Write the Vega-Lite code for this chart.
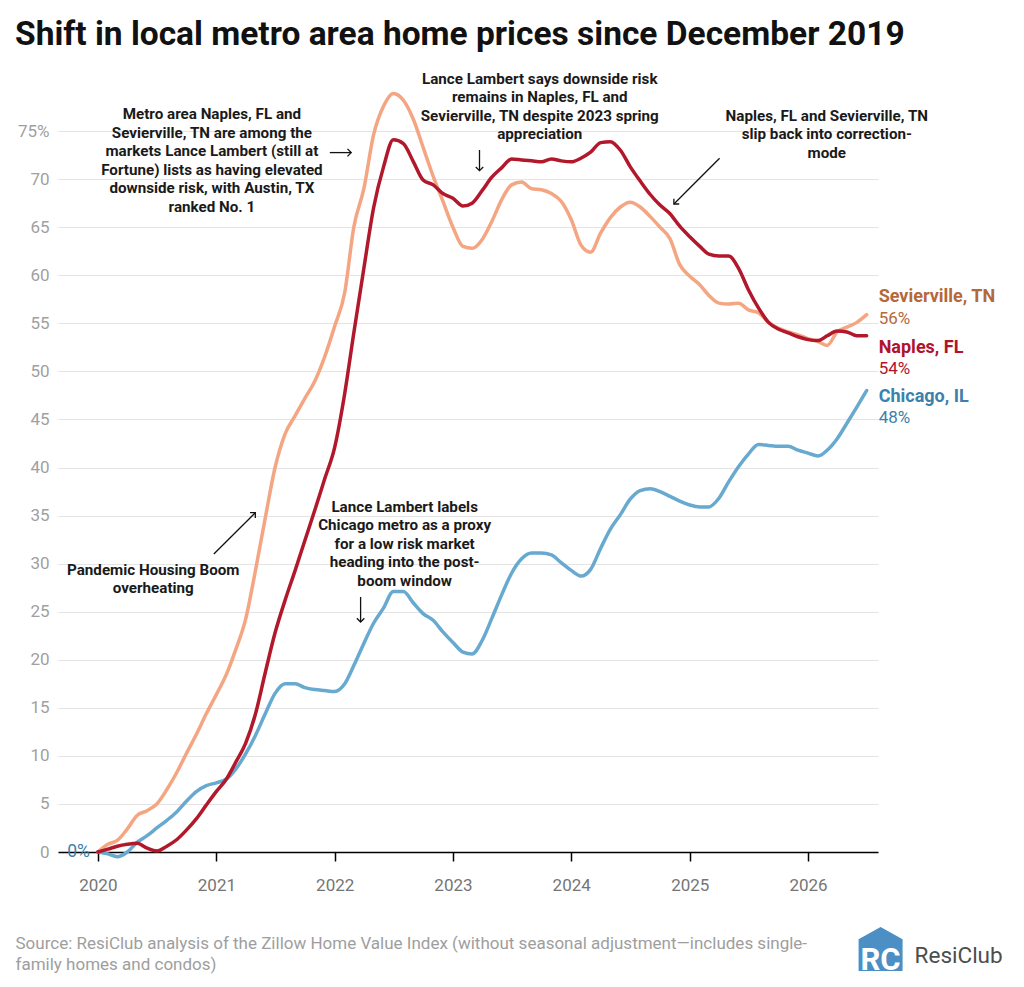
{
  "$schema": "https://vega.github.io/schema/vega-lite/v6.json",
  "width": 820,
  "height": 769,
  "autosize": {"type": "none"},
  "padding": {"left": 58, "top": 83, "right": 146, "bottom": 135},
  "background": "white",
  "title": {
    "text": "Shift in local metro area home prices since December 2019",
    "anchor": "start",
    "frame": "group",
    "fontSize": 33.5,
    "fontWeight": "bold",
    "color": "#111111",
    "dx": -43,
    "offset": 19
  },
  "datasets": {
    "series": [
      {"metro": "Chicago, IL", "date": "2020-01-01", "value": 0},
      {"metro": "Chicago, IL", "date": "2020-02-01", "value": -0.2},
      {"metro": "Chicago, IL", "date": "2020-03-01", "value": -0.5},
      {"metro": "Chicago, IL", "date": "2020-04-01", "value": 0.0},
      {"metro": "Chicago, IL", "date": "2020-05-01", "value": 1.0},
      {"metro": "Chicago, IL", "date": "2020-06-01", "value": 1.7},
      {"metro": "Chicago, IL", "date": "2020-07-01", "value": 2.5},
      {"metro": "Chicago, IL", "date": "2020-08-01", "value": 3.3},
      {"metro": "Chicago, IL", "date": "2020-09-01", "value": 4.2},
      {"metro": "Chicago, IL", "date": "2020-10-01", "value": 5.3},
      {"metro": "Chicago, IL", "date": "2020-11-01", "value": 6.3},
      {"metro": "Chicago, IL", "date": "2020-12-01", "value": 6.9},
      {"metro": "Chicago, IL", "date": "2021-01-01", "value": 7.2},
      {"metro": "Chicago, IL", "date": "2021-02-01", "value": 7.6},
      {"metro": "Chicago, IL", "date": "2021-03-01", "value": 8.6},
      {"metro": "Chicago, IL", "date": "2021-04-01", "value": 10.2},
      {"metro": "Chicago, IL", "date": "2021-05-01", "value": 12.1},
      {"metro": "Chicago, IL", "date": "2021-06-01", "value": 14.4},
      {"metro": "Chicago, IL", "date": "2021-07-01", "value": 16.5},
      {"metro": "Chicago, IL", "date": "2021-08-01", "value": 17.5},
      {"metro": "Chicago, IL", "date": "2021-09-01", "value": 17.5},
      {"metro": "Chicago, IL", "date": "2021-10-01", "value": 17.1},
      {"metro": "Chicago, IL", "date": "2021-11-01", "value": 16.9},
      {"metro": "Chicago, IL", "date": "2021-12-01", "value": 16.8},
      {"metro": "Chicago, IL", "date": "2022-01-01", "value": 16.7},
      {"metro": "Chicago, IL", "date": "2022-02-01", "value": 17.5},
      {"metro": "Chicago, IL", "date": "2022-03-01", "value": 19.4},
      {"metro": "Chicago, IL", "date": "2022-04-01", "value": 21.7},
      {"metro": "Chicago, IL", "date": "2022-05-01", "value": 23.8},
      {"metro": "Chicago, IL", "date": "2022-06-01", "value": 25.4},
      {"metro": "Chicago, IL", "date": "2022-07-01", "value": 27.1},
      {"metro": "Chicago, IL", "date": "2022-08-01", "value": 27.1},
      {"metro": "Chicago, IL", "date": "2022-09-01", "value": 25.9},
      {"metro": "Chicago, IL", "date": "2022-10-01", "value": 24.8},
      {"metro": "Chicago, IL", "date": "2022-11-01", "value": 24.1},
      {"metro": "Chicago, IL", "date": "2022-12-01", "value": 22.9},
      {"metro": "Chicago, IL", "date": "2023-01-01", "value": 21.8},
      {"metro": "Chicago, IL", "date": "2023-02-01", "value": 20.8},
      {"metro": "Chicago, IL", "date": "2023-03-01", "value": 20.6},
      {"metro": "Chicago, IL", "date": "2023-04-01", "value": 22.0},
      {"metro": "Chicago, IL", "date": "2023-05-01", "value": 24.3},
      {"metro": "Chicago, IL", "date": "2023-06-01", "value": 26.8},
      {"metro": "Chicago, IL", "date": "2023-07-01", "value": 29.0},
      {"metro": "Chicago, IL", "date": "2023-08-01", "value": 30.5},
      {"metro": "Chicago, IL", "date": "2023-09-01", "value": 31.1},
      {"metro": "Chicago, IL", "date": "2023-10-01", "value": 31.1},
      {"metro": "Chicago, IL", "date": "2023-11-01", "value": 30.9},
      {"metro": "Chicago, IL", "date": "2023-12-01", "value": 30.1},
      {"metro": "Chicago, IL", "date": "2024-01-01", "value": 29.3},
      {"metro": "Chicago, IL", "date": "2024-02-01", "value": 28.7},
      {"metro": "Chicago, IL", "date": "2024-03-01", "value": 29.4},
      {"metro": "Chicago, IL", "date": "2024-04-01", "value": 31.6},
      {"metro": "Chicago, IL", "date": "2024-05-01", "value": 33.6},
      {"metro": "Chicago, IL", "date": "2024-06-01", "value": 35.1},
      {"metro": "Chicago, IL", "date": "2024-07-01", "value": 36.7},
      {"metro": "Chicago, IL", "date": "2024-08-01", "value": 37.6},
      {"metro": "Chicago, IL", "date": "2024-09-01", "value": 37.8},
      {"metro": "Chicago, IL", "date": "2024-10-01", "value": 37.5},
      {"metro": "Chicago, IL", "date": "2024-11-01", "value": 37.0},
      {"metro": "Chicago, IL", "date": "2024-12-01", "value": 36.5},
      {"metro": "Chicago, IL", "date": "2025-01-01", "value": 36.1},
      {"metro": "Chicago, IL", "date": "2025-02-01", "value": 35.9},
      {"metro": "Chicago, IL", "date": "2025-03-01", "value": 35.9},
      {"metro": "Chicago, IL", "date": "2025-04-01", "value": 36.8},
      {"metro": "Chicago, IL", "date": "2025-05-01", "value": 38.5},
      {"metro": "Chicago, IL", "date": "2025-06-01", "value": 40.1},
      {"metro": "Chicago, IL", "date": "2025-07-01", "value": 41.4},
      {"metro": "Chicago, IL", "date": "2025-08-01", "value": 42.4},
      {"metro": "Chicago, IL", "date": "2025-09-01", "value": 42.3},
      {"metro": "Chicago, IL", "date": "2025-10-01", "value": 42.2},
      {"metro": "Chicago, IL", "date": "2025-11-01", "value": 42.2},
      {"metro": "Chicago, IL", "date": "2025-12-01", "value": 41.8},
      {"metro": "Chicago, IL", "date": "2026-01-01", "value": 41.5},
      {"metro": "Chicago, IL", "date": "2026-02-01", "value": 41.2},
      {"metro": "Chicago, IL", "date": "2026-03-01", "value": 41.8},
      {"metro": "Chicago, IL", "date": "2026-04-01", "value": 43.0},
      {"metro": "Chicago, IL", "date": "2026-05-01", "value": 44.6},
      {"metro": "Chicago, IL", "date": "2026-06-01", "value": 46.3},
      {"metro": "Chicago, IL", "date": "2026-07-01", "value": 48.0},
      {"metro": "Sevierville, TN", "date": "2020-01-01", "value": 0},
      {"metro": "Sevierville, TN", "date": "2020-02-01", "value": 0.8},
      {"metro": "Sevierville, TN", "date": "2020-03-01", "value": 1.2},
      {"metro": "Sevierville, TN", "date": "2020-04-01", "value": 2.4},
      {"metro": "Sevierville, TN", "date": "2020-05-01", "value": 3.8},
      {"metro": "Sevierville, TN", "date": "2020-06-01", "value": 4.3},
      {"metro": "Sevierville, TN", "date": "2020-07-01", "value": 5.0},
      {"metro": "Sevierville, TN", "date": "2020-08-01", "value": 6.5},
      {"metro": "Sevierville, TN", "date": "2020-09-01", "value": 8.3},
      {"metro": "Sevierville, TN", "date": "2020-10-01", "value": 10.3},
      {"metro": "Sevierville, TN", "date": "2020-11-01", "value": 12.3},
      {"metro": "Sevierville, TN", "date": "2020-12-01", "value": 14.4},
      {"metro": "Sevierville, TN", "date": "2021-01-01", "value": 16.4},
      {"metro": "Sevierville, TN", "date": "2021-02-01", "value": 18.5},
      {"metro": "Sevierville, TN", "date": "2021-03-01", "value": 21.0},
      {"metro": "Sevierville, TN", "date": "2021-04-01", "value": 24.2},
      {"metro": "Sevierville, TN", "date": "2021-05-01", "value": 29.2},
      {"metro": "Sevierville, TN", "date": "2021-06-01", "value": 34.8},
      {"metro": "Sevierville, TN", "date": "2021-07-01", "value": 40.0},
      {"metro": "Sevierville, TN", "date": "2021-08-01", "value": 43.5},
      {"metro": "Sevierville, TN", "date": "2021-09-01", "value": 45.4},
      {"metro": "Sevierville, TN", "date": "2021-10-01", "value": 47.2},
      {"metro": "Sevierville, TN", "date": "2021-11-01", "value": 49.0},
      {"metro": "Sevierville, TN", "date": "2021-12-01", "value": 51.5},
      {"metro": "Sevierville, TN", "date": "2022-01-01", "value": 54.7},
      {"metro": "Sevierville, TN", "date": "2022-02-01", "value": 58.2},
      {"metro": "Sevierville, TN", "date": "2022-03-01", "value": 65.0},
      {"metro": "Sevierville, TN", "date": "2022-04-01", "value": 69.0},
      {"metro": "Sevierville, TN", "date": "2022-05-01", "value": 74.6},
      {"metro": "Sevierville, TN", "date": "2022-06-01", "value": 77.6},
      {"metro": "Sevierville, TN", "date": "2022-07-01", "value": 78.9},
      {"metro": "Sevierville, TN", "date": "2022-08-01", "value": 78.2},
      {"metro": "Sevierville, TN", "date": "2022-09-01", "value": 76.2},
      {"metro": "Sevierville, TN", "date": "2022-10-01", "value": 73.3},
      {"metro": "Sevierville, TN", "date": "2022-11-01", "value": 70.3},
      {"metro": "Sevierville, TN", "date": "2022-12-01", "value": 67.7},
      {"metro": "Sevierville, TN", "date": "2023-01-01", "value": 65.0},
      {"metro": "Sevierville, TN", "date": "2023-02-01", "value": 63.0},
      {"metro": "Sevierville, TN", "date": "2023-03-01", "value": 62.8},
      {"metro": "Sevierville, TN", "date": "2023-04-01", "value": 63.7},
      {"metro": "Sevierville, TN", "date": "2023-05-01", "value": 65.6},
      {"metro": "Sevierville, TN", "date": "2023-06-01", "value": 67.9},
      {"metro": "Sevierville, TN", "date": "2023-07-01", "value": 69.4},
      {"metro": "Sevierville, TN", "date": "2023-08-01", "value": 69.7},
      {"metro": "Sevierville, TN", "date": "2023-09-01", "value": 69.0},
      {"metro": "Sevierville, TN", "date": "2023-10-01", "value": 68.9},
      {"metro": "Sevierville, TN", "date": "2023-11-01", "value": 68.5},
      {"metro": "Sevierville, TN", "date": "2023-12-01", "value": 67.7},
      {"metro": "Sevierville, TN", "date": "2024-01-01", "value": 65.8},
      {"metro": "Sevierville, TN", "date": "2024-02-01", "value": 63.1},
      {"metro": "Sevierville, TN", "date": "2024-03-01", "value": 62.4},
      {"metro": "Sevierville, TN", "date": "2024-04-01", "value": 64.4},
      {"metro": "Sevierville, TN", "date": "2024-05-01", "value": 66.0},
      {"metro": "Sevierville, TN", "date": "2024-06-01", "value": 67.1},
      {"metro": "Sevierville, TN", "date": "2024-07-01", "value": 67.6},
      {"metro": "Sevierville, TN", "date": "2024-08-01", "value": 67.1},
      {"metro": "Sevierville, TN", "date": "2024-09-01", "value": 66.1},
      {"metro": "Sevierville, TN", "date": "2024-10-01", "value": 65.0},
      {"metro": "Sevierville, TN", "date": "2024-11-01", "value": 63.8},
      {"metro": "Sevierville, TN", "date": "2024-12-01", "value": 61.1},
      {"metro": "Sevierville, TN", "date": "2025-01-01", "value": 59.9},
      {"metro": "Sevierville, TN", "date": "2025-02-01", "value": 59.0},
      {"metro": "Sevierville, TN", "date": "2025-03-01", "value": 57.9},
      {"metro": "Sevierville, TN", "date": "2025-04-01", "value": 57.1},
      {"metro": "Sevierville, TN", "date": "2025-05-01", "value": 57.0},
      {"metro": "Sevierville, TN", "date": "2025-06-01", "value": 57.1},
      {"metro": "Sevierville, TN", "date": "2025-07-01", "value": 56.4},
      {"metro": "Sevierville, TN", "date": "2025-08-01", "value": 56.1},
      {"metro": "Sevierville, TN", "date": "2025-09-01", "value": 55.1},
      {"metro": "Sevierville, TN", "date": "2025-10-01", "value": 54.5},
      {"metro": "Sevierville, TN", "date": "2025-11-01", "value": 54.1},
      {"metro": "Sevierville, TN", "date": "2025-12-01", "value": 53.8},
      {"metro": "Sevierville, TN", "date": "2026-01-01", "value": 53.4},
      {"metro": "Sevierville, TN", "date": "2026-02-01", "value": 53.1},
      {"metro": "Sevierville, TN", "date": "2026-03-01", "value": 52.7},
      {"metro": "Sevierville, TN", "date": "2026-04-01", "value": 54.1},
      {"metro": "Sevierville, TN", "date": "2026-05-01", "value": 54.6},
      {"metro": "Sevierville, TN", "date": "2026-06-01", "value": 55.1},
      {"metro": "Sevierville, TN", "date": "2026-07-01", "value": 55.9},
      {"metro": "Naples, FL", "date": "2020-01-01", "value": 0},
      {"metro": "Naples, FL", "date": "2020-02-01", "value": 0.3},
      {"metro": "Naples, FL", "date": "2020-03-01", "value": 0.6},
      {"metro": "Naples, FL", "date": "2020-04-01", "value": 0.8},
      {"metro": "Naples, FL", "date": "2020-05-01", "value": 0.9},
      {"metro": "Naples, FL", "date": "2020-06-01", "value": 0.4},
      {"metro": "Naples, FL", "date": "2020-07-01", "value": 0.1},
      {"metro": "Naples, FL", "date": "2020-08-01", "value": 0.6},
      {"metro": "Naples, FL", "date": "2020-09-01", "value": 1.3},
      {"metro": "Naples, FL", "date": "2020-10-01", "value": 2.3},
      {"metro": "Naples, FL", "date": "2020-11-01", "value": 3.5},
      {"metro": "Naples, FL", "date": "2020-12-01", "value": 4.9},
      {"metro": "Naples, FL", "date": "2021-01-01", "value": 6.3},
      {"metro": "Naples, FL", "date": "2021-02-01", "value": 7.6},
      {"metro": "Naples, FL", "date": "2021-03-01", "value": 9.3},
      {"metro": "Naples, FL", "date": "2021-04-01", "value": 11.3},
      {"metro": "Naples, FL", "date": "2021-05-01", "value": 14.3},
      {"metro": "Naples, FL", "date": "2021-06-01", "value": 18.7},
      {"metro": "Naples, FL", "date": "2021-07-01", "value": 22.8},
      {"metro": "Naples, FL", "date": "2021-08-01", "value": 26.2},
      {"metro": "Naples, FL", "date": "2021-09-01", "value": 29.3},
      {"metro": "Naples, FL", "date": "2021-10-01", "value": 32.4},
      {"metro": "Naples, FL", "date": "2021-11-01", "value": 35.6},
      {"metro": "Naples, FL", "date": "2021-12-01", "value": 38.8},
      {"metro": "Naples, FL", "date": "2022-01-01", "value": 42.1},
      {"metro": "Naples, FL", "date": "2022-02-01", "value": 47.7},
      {"metro": "Naples, FL", "date": "2022-03-01", "value": 54.0},
      {"metro": "Naples, FL", "date": "2022-04-01", "value": 60.7},
      {"metro": "Naples, FL", "date": "2022-05-01", "value": 67.0},
      {"metro": "Naples, FL", "date": "2022-06-01", "value": 71.3},
      {"metro": "Naples, FL", "date": "2022-07-01", "value": 74.1},
      {"metro": "Naples, FL", "date": "2022-08-01", "value": 73.7},
      {"metro": "Naples, FL", "date": "2022-09-01", "value": 71.8},
      {"metro": "Naples, FL", "date": "2022-10-01", "value": 69.9},
      {"metro": "Naples, FL", "date": "2022-11-01", "value": 69.4},
      {"metro": "Naples, FL", "date": "2022-12-01", "value": 68.5},
      {"metro": "Naples, FL", "date": "2023-01-01", "value": 68.0},
      {"metro": "Naples, FL", "date": "2023-02-01", "value": 67.2},
      {"metro": "Naples, FL", "date": "2023-03-01", "value": 67.5},
      {"metro": "Naples, FL", "date": "2023-04-01", "value": 68.8},
      {"metro": "Naples, FL", "date": "2023-05-01", "value": 70.2},
      {"metro": "Naples, FL", "date": "2023-06-01", "value": 71.2},
      {"metro": "Naples, FL", "date": "2023-07-01", "value": 72.1},
      {"metro": "Naples, FL", "date": "2023-08-01", "value": 72.0},
      {"metro": "Naples, FL", "date": "2023-09-01", "value": 71.9},
      {"metro": "Naples, FL", "date": "2023-10-01", "value": 71.8},
      {"metro": "Naples, FL", "date": "2023-11-01", "value": 72.1},
      {"metro": "Naples, FL", "date": "2023-12-01", "value": 71.9},
      {"metro": "Naples, FL", "date": "2024-01-01", "value": 71.8},
      {"metro": "Naples, FL", "date": "2024-02-01", "value": 72.2},
      {"metro": "Naples, FL", "date": "2024-03-01", "value": 72.8},
      {"metro": "Naples, FL", "date": "2024-04-01", "value": 73.8},
      {"metro": "Naples, FL", "date": "2024-05-01", "value": 73.9},
      {"metro": "Naples, FL", "date": "2024-06-01", "value": 73.0},
      {"metro": "Naples, FL", "date": "2024-07-01", "value": 71.3},
      {"metro": "Naples, FL", "date": "2024-08-01", "value": 69.8},
      {"metro": "Naples, FL", "date": "2024-09-01", "value": 68.4},
      {"metro": "Naples, FL", "date": "2024-10-01", "value": 67.3},
      {"metro": "Naples, FL", "date": "2024-11-01", "value": 66.4},
      {"metro": "Naples, FL", "date": "2024-12-01", "value": 65.1},
      {"metro": "Naples, FL", "date": "2025-01-01", "value": 64.0},
      {"metro": "Naples, FL", "date": "2025-02-01", "value": 63.0},
      {"metro": "Naples, FL", "date": "2025-03-01", "value": 62.2},
      {"metro": "Naples, FL", "date": "2025-04-01", "value": 62.0},
      {"metro": "Naples, FL", "date": "2025-05-01", "value": 62.0},
      {"metro": "Naples, FL", "date": "2025-06-01", "value": 60.7},
      {"metro": "Naples, FL", "date": "2025-07-01", "value": 58.5},
      {"metro": "Naples, FL", "date": "2025-08-01", "value": 56.6},
      {"metro": "Naples, FL", "date": "2025-09-01", "value": 55.1},
      {"metro": "Naples, FL", "date": "2025-10-01", "value": 54.4},
      {"metro": "Naples, FL", "date": "2025-11-01", "value": 54.0},
      {"metro": "Naples, FL", "date": "2025-12-01", "value": 53.6},
      {"metro": "Naples, FL", "date": "2026-01-01", "value": 53.3},
      {"metro": "Naples, FL", "date": "2026-02-01", "value": 53.2},
      {"metro": "Naples, FL", "date": "2026-03-01", "value": 53.7},
      {"metro": "Naples, FL", "date": "2026-04-01", "value": 54.2},
      {"metro": "Naples, FL", "date": "2026-05-01", "value": 54.1},
      {"metro": "Naples, FL", "date": "2026-06-01", "value": 53.7},
      {"metro": "Naples, FL", "date": "2026-07-01", "value": 53.7}
    ],
    "labels": [
      {"metro": "Sevierville, TN", "kind": "name", "date": "2026-07-01", "value": 57.7, "label": "Sevierville, TN"},
      {"metro": "Sevierville, TN", "kind": "pct", "date": "2026-07-01", "value": 55.4, "label": "56%"},
      {"metro": "Naples, FL", "kind": "name", "date": "2026-07-01", "value": 52.4, "label": "Naples, FL"},
      {"metro": "Naples, FL", "kind": "pct", "date": "2026-07-01", "value": 50.2, "label": "54%"},
      {"metro": "Chicago, IL", "kind": "name", "date": "2026-07-01", "value": 47.3, "label": "Chicago, IL"},
      {"metro": "Chicago, IL", "kind": "pct", "date": "2026-07-01", "value": 45.1, "label": "48%"},
      {"metro": "Chicago, IL", "kind": "start", "date": "2020-01-01", "value": 0, "label": "0%"}
    ],
    "notes": [
      {"date": "2020-12-18", "value": 76.22, "note": "Metro area Naples, FL and\nSevierville, TN are among the\nmarkets Lance Lambert (still at\nFortune) lists as having elevated\ndownside risk, with Austin, TX\nranked No. 1"},
      {"date": "2023-09-26", "value": 79.9, "note": "Lance Lambert says downside risk\nremains in Naples, FL and\nSevierville, TN despite 2023 spring\nappreciation"},
      {"date": "2026-02-28", "value": 76.08, "note": "Naples, FL and Sevierville, TN\nslip back into correction-\nmode"},
      {"date": "2020-06-20", "value": 28.82, "note": "Pandemic Housing Boom\noverheating"},
      {"date": "2022-08-05", "value": 35.4, "note": "Lance Lambert labels\nChicago metro as a proxy\nfor a low risk market\nheading into the post-\nboom window"}
    ],
    "arrows": [
      {"date": "2021-12-17", "value": 72.76, "date2": "2022-02-21", "value2": 72.76, "angle": 0},
      {"date": "2023-03-24", "value": 73.03, "date2": "2023-03-24", "value2": 70.88, "angle": 90},
      {"date": "2025-04-03", "value": 72.17, "date2": "2024-11-13", "value2": 67.41, "angle": 135},
      {"date": "2020-12-24", "value": 31.0, "date2": "2021-05-01", "value2": 35.3, "angle": 315},
      {"date": "2022-03-22", "value": 26.53, "date2": "2022-03-22", "value2": 23.93, "angle": 90}
    ],
    "brand": [
      {"item": "house", "date": "2026-08-13", "value": -10.1, "label": ""},
      {"item": "mark", "date": "2026-08-13", "value": -12.3, "label": "RC"},
      {"item": "name", "date": "2026-11-26", "value": -11.5, "label": "ResiClub"}
    ]
  },
  "resolve": {"scale": {"color": "independent"}},
  "layer": [
    {
      "data": {"name": "series"},
      "mark": {"type": "line", "strokeWidth": 3.5, "interpolate": "monotone", "strokeCap": "round", "strokeJoin": "round"},
      "encoding": {
        "x": {
          "field": "date",
          "type": "temporal",
          "scale": {
            "type": "utc",
            "domain": [
              {"year": 2019, "month": 8, "date": 31, "utc": true},
              {"year": 2026, "month": 8, "date": 5, "utc": true}
            ]
          },
          "axis": {
            "format": "%Y",
            "tickCount": {"interval": "year", "step": 1},
            "grid": false,
            "domain": true,
            "domainColor": "#000000",
            "domainWidth": 1.5,
            "ticks": true,
            "tickColor": "#000000",
            "tickWidth": 1.5,
            "tickSize": 9,
            "labelFontSize": 17,
            "labelColor": "#757575",
            "labelPadding": 16,
            "title": [
              "Source: ResiClub analysis of the Zillow Home Value Index (without seasonal adjustment—includes single-",
              "family homes and condos)"
            ],
            "titleX": -43,
            "titleY": 96,
            "titleAlign": "left",
            "titleAnchor": "start",
            "titleBaseline": "alphabetic",
            "titleFontSize": 17,
            "titleFontWeight": "normal",
            "titleColor": "#9e9e9e",
            "titleLineHeight": 21
          }
        },
        "y": {
          "field": "value",
          "type": "quantitative",
          "scale": {"domain": [0, 80], "nice": false, "zero": false},
          "axis": {
            "values": [0, 5, 10, 15, 20, 25, 30, 35, 40, 45, 50, 55, 60, 65, 70, 75],
            "title": null,
            "domain": false,
            "ticks": false,
            "grid": true,
            "gridColor": "#e4e4e4",
            "gridWidth": 1,
            "labelColor": "#a0a0a0",
            "labelFontSize": 17,
            "labelPadding": 9,
            "labelExpr": "datum.value === 75 ? '75%' : datum.label"
          }
        },
        "color": {
          "field": "metro",
          "type": "nominal",
          "scale": {
            "domain": ["Chicago, IL", "Sevierville, TN", "Naples, FL"],
            "range": ["#67a9cf", "#f4a582", "#b2182b"]
          },
          "legend": null
        }
      }
    },
    {
      "data": {"name": "labels"},
      "transform": [{"filter": "datum.kind === 'name'"}],
      "mark": {"type": "text", "align": "left", "baseline": "middle", "dx": 12, "fontSize": 18, "fontWeight": "bold"},
      "encoding": {
        "x": {"field": "date", "type": "temporal"},
        "y": {"field": "value", "type": "quantitative"},
        "text": {"field": "label"},
        "color": {
          "field": "metro",
          "type": "nominal",
          "scale": {
            "domain": ["Chicago, IL", "Sevierville, TN", "Naples, FL"],
            "range": ["#3d80ab", "#b5683a", "#b0132c"]
          },
          "legend": null
        }
      }
    },
    {
      "data": {"name": "labels"},
      "transform": [{"filter": "datum.kind === 'pct'"}],
      "mark": {"type": "text", "align": "left", "baseline": "middle", "dx": 12, "fontSize": 17},
      "encoding": {
        "x": {"field": "date", "type": "temporal"},
        "y": {"field": "value", "type": "quantitative"},
        "text": {"field": "label"},
        "color": {
          "field": "metro",
          "type": "nominal",
          "scale": {
            "domain": ["Chicago, IL", "Sevierville, TN", "Naples, FL"],
            "range": ["#3d80ab", "#b5683a", "#b0132c"]
          },
          "legend": null
        }
      }
    },
    {
      "data": {"name": "labels"},
      "transform": [{"filter": "datum.kind === 'start'"}],
      "mark": {"type": "text", "align": "right", "baseline": "middle", "dx": -8, "fontSize": 17.5, "color": "#3d80ab"},
      "encoding": {
        "x": {"field": "date", "type": "temporal"},
        "y": {"field": "value", "type": "quantitative"},
        "text": {"field": "label"}
      }
    },
    {
      "data": {"name": "notes"},
      "mark": {"type": "text", "align": "center", "baseline": "alphabetic", "lineBreak": "\n", "lineHeight": 18.5, "fontSize": 15.2, "fontWeight": "bold", "color": "#1a1a1a"},
      "encoding": {
        "x": {"field": "date", "type": "temporal"},
        "y": {"field": "value", "type": "quantitative"},
        "text": {"field": "note"}
      }
    },
    {
      "data": {"name": "arrows"},
      "mark": {"type": "rule", "color": "#111111", "strokeWidth": 1.3},
      "encoding": {
        "x": {"field": "date", "type": "temporal"},
        "x2": {"field": "date2"},
        "y": {"field": "value", "type": "quantitative"},
        "y2": {"field": "value2"}
      }
    },
    {
      "data": {"name": "arrows"},
      "mark": {"type": "point", "shape": "M-1,-1L0,0L-1,1", "filled": false, "size": 56, "color": "#111111", "strokeWidth": 1.3, "opacity": 1},
      "encoding": {
        "x": {"field": "date2", "type": "temporal"},
        "y": {"field": "value2", "type": "quantitative"},
        "angle": {"field": "angle", "type": "quantitative", "scale": null}
      }
    },
    {
      "data": {"name": "brand"},
      "transform": [{"filter": "datum.item === 'house'"}],
      "mark": {"type": "point", "shape": "M0,-1L1,-0.45L1,1L-1,1L-1,-0.45Z", "filled": true, "size": 1936, "color": "#4b8fc4", "opacity": 1},
      "encoding": {
        "x": {"field": "date", "type": "temporal"},
        "y": {"field": "value", "type": "quantitative"}
      }
    },
    {
      "data": {"name": "brand"},
      "transform": [{"filter": "datum.item === 'mark'"}],
      "mark": {"type": "text", "align": "center", "baseline": "alphabetic", "fontSize": 31, "fontWeight": "bold", "color": "#ffffff"},
      "encoding": {
        "x": {"field": "date", "type": "temporal"},
        "y": {"field": "value", "type": "quantitative"},
        "text": {"field": "label"}
      }
    },
    {
      "data": {"name": "brand"},
      "transform": [{"filter": "datum.item === 'name'"}],
      "mark": {"type": "text", "align": "left", "baseline": "alphabetic", "fontSize": 22.5, "color": "#4d4d4d"},
      "encoding": {
        "x": {"field": "date", "type": "temporal"},
        "y": {"field": "value", "type": "quantitative"},
        "text": {"field": "label"}
      }
    }
  ],
  "config": {
    "view": {"stroke": null},
    "font": "Roboto"
  }
}
